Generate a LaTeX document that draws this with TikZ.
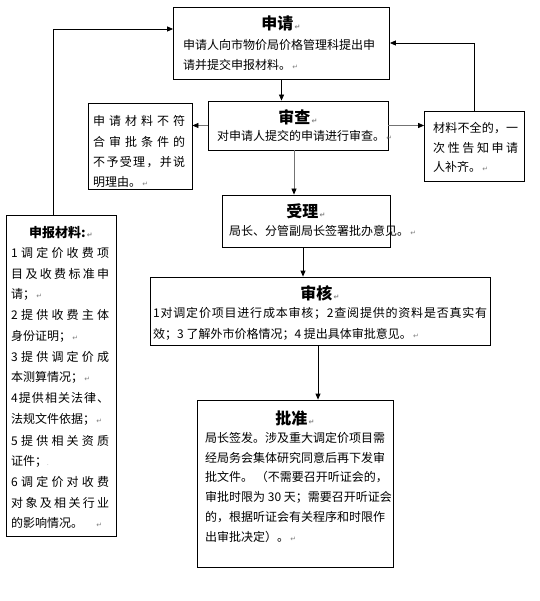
\documentclass[tikz,border=0pt]{standalone}
\usepackage{fontspec}
\setmainfont{Noto Sans CJK SC}
\newfontfamily\symf{DejaVu Sans}
\usetikzlibrary{arrows.meta}
\newcommand\rt{{\symf\fontsize{7}{7}\selectfont\color{gray}\,↵}}
\def\sprd#1#2{\hbox to #1{\sprdB#2\relax}}
\def\sprdB#1{#1\sprdA}
\def\sprdA#1{\ifx\relax#1\else\hfil#1\expandafter\sprdA\fi}
\begin{document}
\begin{tikzpicture}[x=1pt,y=-1pt,
  box/.style={draw,line width=0.8pt,inner sep=0pt},
  ln/.style={anchor=west,inner sep=0pt,font=\fontsize{12}{12}\selectfont},
  ttl/.style={inner sep=0pt,font=\bfseries\fontsize{16}{16}\selectfont},
  conn/.style={line width=0.8pt,-{Triangle[length=6pt,width=5pt]}},
  gconn/.style={line width=0.8pt,draw=black!55,-{Triangle[length=6pt,width=5pt,color=black]}}]
\useasboundingbox (0,0) rectangle (539,601);
% boxes
\node[box,minimum width=216pt,minimum height=72pt] (sq) at (281.5,43) {};
\node[box,minimum width=180pt,minimum height=49pt] (sc) at (298,125.5) {};
\node[box,minimum width=104pt,minimum height=86pt] (rej) at (140,146) {};
\node[box,minimum width=100pt,minimum height=70pt] (bq) at (474.5,146) {};
\node[box,minimum width=168pt,minimum height=52pt] (sl) at (306,221) {};
\node[box,minimum width=340pt,minimum height=68pt] (sh) at (320,311) {};
\node[box,minimum width=196pt,minimum height=167pt] (pz) at (295,483.5) {};
\node[box,minimum width=110pt,minimum height=321pt] (cl) at (61,375.5) {};
% texts: 申请
\node[ttl] (t1) at (281,23) {申请\rt};
\node[ln] (a1) at (183,45) {申请人向市物价局价格管理科提出申};
\node[ln] (a2) at (183,65) {请并提交申报材料。\rt};
% 审查
\node[ttl] (t2) at (298,117) {审查\rt};
\node[ln] (b1) at (217,136) {对申请人提交的申请进行审查。\rt};
% reject
\node[ln] (r1) at (93,121) {\sprd{92pt}{申请材料不符}};
\node[ln] (r2) at (93,141.5) {\sprd{92pt}{合审批条件的}};
\node[ln] (r3) at (93,162) {\sprd{92pt}{不予受理，并说}};
\node[ln] (r4) at (93,182) {明理由。\rt};
% 补齐
\node[ln] (q1) at (433,128) {\sprd{85pt}{材料不全的，一}};
\node[ln] (q2) at (433,148) {\sprd{85pt}{次性告知申请}};
\node[ln] (q3) at (433,167) {人补齐。\rt};
% 受理
\node[ttl] (t3) at (306,211) {受理\rt};
\node[ln] (c1) at (229,231) {局长、分管副局长签署批办意见。\rt};
% 审核
\node[ttl] (t4) at (320,293) {审核\rt};
\node[ln] (d1) at (153,313) {\sprd{334pt}{1 对调定价项目进行成本审核；2 查阅提供的资料是否真实有}};
\node[ln] (d2) at (153,334) {效；3 了解外市价格情况；4 提出具体审批意见。\rt};
% 批准
\node[ttl] (t5) at (295,418) {批准\rt};
\node[ln] (e1) at (205,438) {局长签发。涉及重大调定价项目需};
\node[ln] (e2) at (205,458) {经局务会集体研究同意后再下发审};
\node[ln] (e3) at (205,477.5) {批文件。 （不需要召开听证会的，};
\node[ln] (e4) at (205,497) {审批时限为 30 天；需要召开听证会};
\node[ln] (e5) at (205,517) {的，根据听证会有关程序和时限作};
\node[ln] (e6) at (205,536.5) {出审批决定）。\rt};
% 申报材料
\node[ttl,font=\bfseries\fontsize{13}{13}\selectfont] (t6) at (61,233) {申报材料:\rt};
\node[ln] (f1) at (11,253) {\sprd{98pt}{1 调定价收费项}};
\node[ln] (f2) at (11,273.5) {\sprd{98pt}{目及收费标准申}};
\node[ln] (f3) at (11,294) {请；\rt};
\node[ln] (f4) at (11,315) {\sprd{98pt}{2 提供收费主体}};
\node[ln] (f5) at (11,336) {身份证明；\rt};
\node[ln] (f6) at (11,356.5) {\sprd{98pt}{3 提供调定价成}};
\node[ln] (f7) at (11,377) {本测算情况；\rt};
\node[ln] (f8) at (11,398) {\sprd{98pt}{4 提供相关法律、}};
\node[ln] (f9) at (11,419.5) {法规文件依据；\rt};
\node[ln] (f10) at (11,441) {\sprd{98pt}{5 提供相关资质}};
\node[ln] (f11) at (11,461.5) {证件；{\color{gray}\fontsize{6}{6}\selectfont .}};
\node[ln] (f12) at (11,482) {\sprd{98pt}{6 调定价对收费}};
\node[ln] (f13) at (11,503) {\sprd{98pt}{对象及相关行业}};
\node[ln] (f14) at (11,523) {的影响情况。\quad\rt};
% connectors
\coordinate (clt) at ([xshift=-8pt]cl.north);
\coordinate (sqw) at ([yshift=14pt]sq.west);
\draw[conn] (clt) |- (sqw);
\draw[conn] (bq.north) |- (sq.east);
\draw[conn] (sq.south) -- (sq.south |- sc.north);
\draw[gconn] (sc.east) -- (sc.east -| bq.west);
\draw[gconn] (sc.west) -- (sc.west -| rej.east);
\coordinate (scs) at ([xshift=-4pt]sc.south);
\draw[gconn] (scs) -- (scs |- sl.north);
\coordinate (sls) at ([xshift=-3pt]sl.south);
\draw[conn] (sls) -- (sls |- sh.north);
\coordinate (shs) at ([xshift=-2pt]sh.south);
\draw[conn] (shs) -- (shs |- pz.north);
\end{tikzpicture}
\end{document}
